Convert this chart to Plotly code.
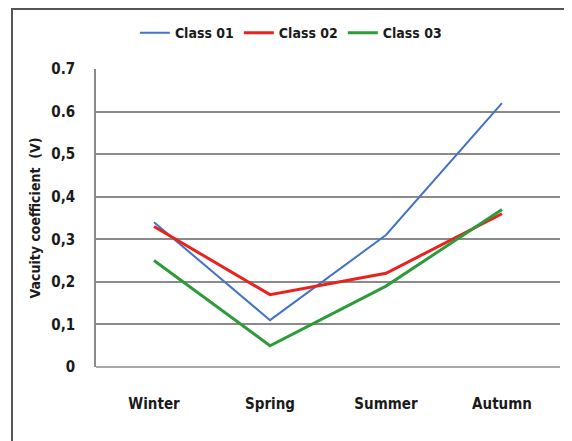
import plotly.graph_objects as go

seasons = ["Winter", "Spring", "Summer", "Autumn"]
class01 = [0.34, 0.11, 0.31, 0.62]
class02 = [0.33, 0.17, 0.22, 0.36]
class03 = [0.25, 0.05, 0.19, 0.37]
y_tick_vals = [0, 0.1, 0.2, 0.3, 0.4, 0.5, 0.6, 0.7]
y_tick_text = ["0", "0,1", "0,2", "0,3", "0,4", "0,5", "0.6", "0.7"]

FONT = "DejaVu Sans Condensed"
TXT = "#1a1a1a"

fig = go.Figure()
fig.add_trace(go.Scatter(x=seasons, y=class01, mode="lines", name="Class 01",
                         line=dict(color="#4472C4", width=2)))
fig.add_trace(go.Scatter(x=seasons, y=class02, mode="lines", name="Class 02",
                         line=dict(color="#E8231E", width=3)))
fig.add_trace(go.Scatter(x=seasons, y=class03, mode="lines", name="Class 03",
                         line=dict(color="#2E9B3A", width=3)))

fig.update_layout(
    width=564, height=433,
    margin=dict(l=88, r=12, t=61, b=74, autoexpand=False),
    paper_bgcolor="white", plot_bgcolor="white",
    font=dict(family=FONT, size=15, color=TXT),
    legend=dict(orientation="h", x=0.42, y=1.12, xanchor="center", yanchor="middle",
                font=dict(family=FONT, size=14, color=TXT, weight="bold"),
                itemwidth=30, tracegroupgap=0, bgcolor="rgba(0,0,0,0)"),
    xaxis=dict(type="category", range=[-0.5, 3.5], showgrid=False, zeroline=False,
               showline=False, ticks="", ticklabelstandoff=26,
               tickfont=dict(family=FONT, size=15, color=TXT, weight="bold")),
    yaxis=dict(range=[0, 0.7], tickvals=y_tick_vals, ticktext=y_tick_text,
               showgrid=True, gridcolor="#8a8a8a", gridwidth=1.5, zeroline=False,
               showline=True, linecolor="#8a8a8a", linewidth=1.5, ticks="",
               ticklabelstandoff=16,
               tickfont=dict(family=FONT, size=15, color=TXT, weight="bold"),
               title=dict(text="Vacuity coefficient  (V)", standoff=7,
                          font=dict(family=FONT, size=14, color=TXT, weight="bold"))),
    showlegend=True,
)

fig.add_shape(type="line", xref="paper", yref="paper", x0=0, x1=1, y0=0, y1=0,
              line=dict(color="#8a8a8a", width=1.5), layer="below")
fig.add_shape(type="rect", xref="paper", yref="paper",
              x0=(4 - 88) / 464, x1=1.2, y0=-0.4, y1=1 + 60 / 298,
              line=dict(color="#555555", width=2), fillcolor="rgba(0,0,0,0)")

fig.write_html("out.html")
